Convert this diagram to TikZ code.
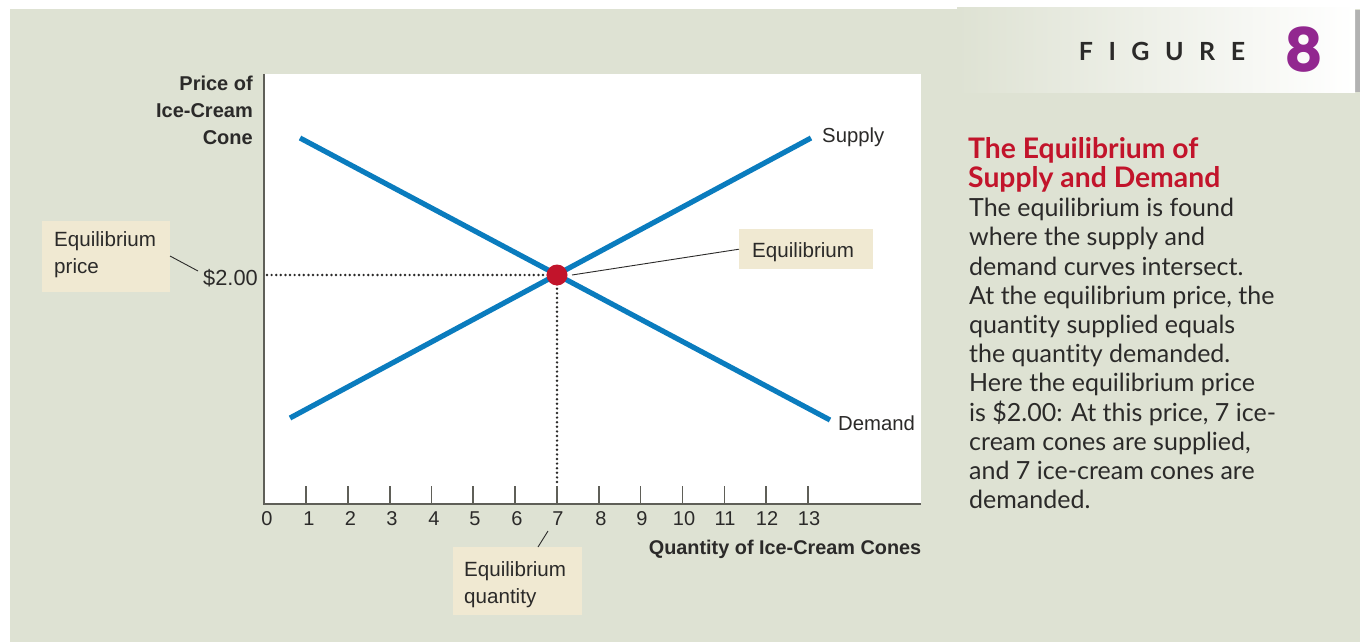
\documentclass[tikz,border=0pt]{standalone}
\usepackage{fontspec}
\setmainfont{Liberation Sans}
\newfontfamily\bodyfont[Ligatures=NoCommon]{Lato}
\newfontfamily\headfont[Ligatures=NoCommon]{Lato}
\newfontfamily\numfont{Poppins}
\usetikzlibrary{calc}
\definecolor{panel}{HTML}{DEE2D3}
\definecolor{tagfill}{HTML}{F0E9D2}
\definecolor{curve}{HTML}{0A7CBE}
\definecolor{eqred}{HTML}{C2142B}
\definecolor{figpurple}{HTML}{92278F}
\definecolor{inkc}{HTML}{2B2A29}
\definecolor{axisc}{HTML}{5F5F58}
\tikzset{
  x=1pt,y=-1pt,
  tagbox/.style={fill=tagfill,anchor=north west,inner sep=0pt},
  tagtext/.style={text=inkc,font=\fontsize{20.6}{27}\selectfont,align=left,anchor=north west,inner sep=0pt},
  tick/.style={font=\fontsize{20}{20}\selectfont,text=inkc,inner sep=0,anchor=center},
  axlab/.style={font=\fontsize{20}{27}\selectfont\bfseries,text=inkc,inner sep=0},
  curveln/.style={curve,line width=5.2pt},
  leader/.style={line width=0.9pt,inkc},
  guide/.style={line width=2.7pt,inkc,line cap=round,dash pattern=on 0pt off 4.6pt},
  curvelab/.style={font=\fontsize{20.3}{20}\selectfont,text=inkc,inner sep=0,anchor=west},
}
\begin{document}
\begin{tikzpicture}
\useasboundingbox (0,0) rectangle (1360,642);
\fill[white] (0,0) rectangle (1360,642);
\fill[panel] (10,9) rectangle (1360,642);
% figure banner
\fill[black!30] (1355,10) rectangle (1360,92);
\shade[left color=panel,right color=white] (957,8) rectangle (1355,92);
\node[font=\fontsize{25}{25}\selectfont\bodyfont\bfseries,text=inkc,anchor=center,inner sep=0] (figword) at (1162,51) {F\hspace{15.5pt}I\hspace{15.5pt}G\hspace{15.5pt}U\hspace{15.5pt}R\hspace{15.5pt}E};
\node[font=\fontsize{60}{60}\selectfont\numfont\bfseries,text=figpurple,anchor=center,inner sep=0] (fignum) at (1304,50) {8};
% plot
\fill[white] (264,74) rectangle (921,504);
\coordinate (org) at (264,504);
\coordinate (ytop) at (264,74);
\coordinate (xend) at (921,504);
\draw[axisc,line width=1.5pt] (ytop) -- (org) -- (xend);
\foreach \i/\px in {1/306,2/348,3/390,4/431.5,5/473,6/515,7/557,8/599,9/640.5,10/682.5,11/724.5,12/766,13/808}{
  \draw[axisc,line width=1.1pt] (\px,486) -- (\px,504);
}
\foreach \l/\px in {0/267,1/309,2/350.5,3/392,4/434,5/475,6/517,7/558,8/601,9/642,10/684,11/725,12/767,13/809}{
  \node[tick] at (\px,519) {\l};
}
\node[axlab,align=right,anchor=north east] (ylab) at (253,76) {Price of\\Ice-Cream\\Cone};
\node[axlab,font=\fontsize{19.85}{27}\selectfont\bfseries,anchor=east] (xlab) at (921.5,549.5) {Quantity of Ice-Cream Cones};
% guides
\coordinate (eq) at (557,275);
\coordinate (yp) at (267,275);
\coordinate (xp) at (557,484);
\draw[guide] (yp) -- (eq);
\draw[guide] (eq) -- (xp);
% curves
\coordinate (d1) at (300,138); \coordinate (d2) at (830,420);
\coordinate (s1) at (290,418); \coordinate (s2) at (811,138);
\draw[curveln] (d1) -- (d2);
\draw[curveln] (s1) -- (s2);
\node[circle,fill=eqred,minimum size=21pt,inner sep=0] (eqdot) at (eq) {};
\node[curvelab] (suplab) at (822,137) {Supply};
\node[curvelab] (demlab) at (838,423) {Demand};
% tags
\node[tick,font=\fontsize{21.8}{22}\selectfont] (price) at (230.5,278) {\$2.00};
\node[tagbox,minimum width=128pt,minimum height=71pt] (tagp) at (42,221) {};
\node[tagtext] (tagptext) at (54,231.5) {Equilibrium\\price};
\node[tagbox,minimum width=134pt,minimum height=40pt] (tage) at (739,229) {};
\node[tagtext] (tagetext) at (752,242) {Equilibrium};
\node[tagbox,minimum width=129pt,minimum height=68pt] (tagq) at (453,547) {};
\node[tagtext] (tagqtext) at (464,561.5) {Equilibrium\\quantity};
\draw[leader] (170,256) -- (198,271);
\draw[leader] (572,275) -- (tage.west);
\draw[leader] (548,531) -- (538,547);
% side text
\node[font=\fontsize{28.3}{29}\selectfont\headfont\bfseries,text=eqred,align=left,anchor=north west,inner sep=0] (head) at (968,137) {The Equilibrium of\\Supply and Demand};
\node[font=\fontsize{25}{29.2}\selectfont\bodyfont,text=inkc,align=left,anchor=north west,inner sep=0] (body) at (969,198) {The equilibrium is found\\where the supply and\\demand curves intersect.\\At the equilibrium price, the\\quantity supplied equals\\the quantity demanded.\\Here the equilibrium price\\is \$2.00: At this price, 7 ice-\\cream cones are supplied,\\and 7 ice-cream cones are\\demanded.};
\end{tikzpicture}
\end{document}
